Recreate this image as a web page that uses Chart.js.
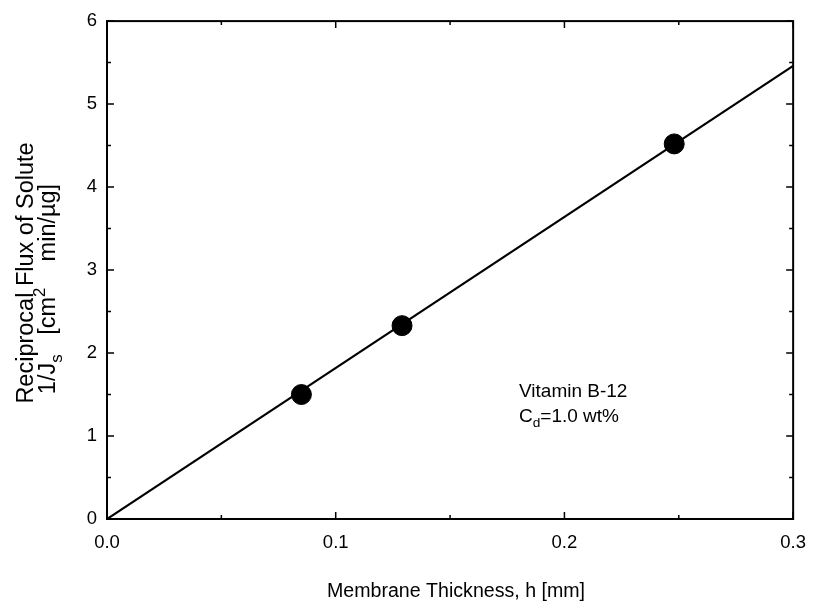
<!DOCTYPE html>
<html>
<head>
<meta charset="utf-8">
<script src="https://cdn.jsdelivr.net/npm/chart.js@4/dist/chart.umd.min.js"></script>
<style>
  html, body { margin: 0; padding: 0; background: #fff; }
  #wrap { width: 819px; height: 603px; }
</style>
</head>
<body>
<div id="wrap"><canvas id="c" width="819" height="603"></canvas></div>
<script>
// Measured solute flux vs. membrane thickness
const thickness = [0.085, 0.129, 0.248];          // h [mm]
const reciprocalFlux = [1.50, 2.33, 4.52];        // 1/Js [cm^2 min/ug]
// Straight-line fit through the origin
const fitThickness = [0.0, 0.3];
const fitFlux = [0.0, 5.46];
// Axis ranges
const xRange = [0, 0.3];
const yRange = [0, 6];
const xStep = 0.1, yStep = 1;

const FONT = '"Liberation Sans", Arial, Helvetica, sans-serif';
const INK = '#000';

// Rich text helpers (plain runs plus sub/superscripts) along a baseline
function richWidth(ctx, parts, size) {
  let w = 0;
  for (const p of parts) {
    const s = p.sub || p.sup ? size * 0.72 : size;
    ctx.font = s + 'px ' + FONT;
    w += ctx.measureText(p.t).width;
  }
  return w;
}
function drawRich(ctx, parts, x, y, size) {
  for (const p of parts) {
    const s = p.sub || p.sup ? size * 0.72 : size;
    ctx.font = s + 'px ' + FONT;
    const dy = p.sub ? size * 0.28 : p.sup ? -size * 0.42 : 0;
    ctx.fillText(p.t, x, y + dy);
    x += ctx.measureText(p.t).width;
  }
}

const frameAndLabels = {
  id: 'frameAndLabels',
  afterDraw(chart) {
    const ctx = chart.ctx;
    const a = chart.chartArea;
    const xs = chart.scales.x, ys = chart.scales.y;
    ctx.save();
    ctx.strokeStyle = INK;
    ctx.lineWidth = 2;
    ctx.strokeRect(a.left, a.top, a.right - a.left, a.bottom - a.top);

    // inward ticks on all four sides (major + half-step minor)
    ctx.lineWidth = 1.5;
    ctx.beginPath();
    for (let v = yRange[0]; v <= yRange[1] + 1e-9; v += yStep / 2) {
      const py = ys.getPixelForValue(v);
      const major = Math.abs(v - Math.round(v)) < 1e-6;
      const len = major ? 7 : 4;
      ctx.moveTo(a.left, py); ctx.lineTo(a.left + len, py);
      ctx.moveTo(a.right, py); ctx.lineTo(a.right - len, py);
    }
    for (let v = xRange[0]; v <= xRange[1] + 1e-9; v += xStep / 2) {
      const px = xs.getPixelForValue(v);
      const major = Math.abs(v / xStep - Math.round(v / xStep)) < 1e-6;
      const len = major ? 7 : 4;
      ctx.moveTo(px, a.bottom); ctx.lineTo(px, a.bottom - len);
      ctx.moveTo(px, a.top); ctx.lineTo(px, a.top + len);
    }
    ctx.stroke();

    ctx.fillStyle = INK;
    ctx.textBaseline = 'alphabetic';
    ctx.textAlign = 'left';

    // x-axis title
    const xt = [{ t: 'Membrane Thickness, h [mm]' }];
    const xw = richWidth(ctx, xt, 19.6);
    drawRich(ctx, xt, 456 - xw / 2, 597, 19.6);

    // y-axis title, two rotated lines
    const l1 = [{ t: 'Reciprocal Flux of Solute' }];
    const l2 = [{ t: '1/J' }, { t: 's', sub: true }, { t: '   [cm' }, { t: '2', sup: true }, { t: '    min/\u00b5g]' }];
    ctx.save();
    ctx.translate(33, 273);
    ctx.rotate(-Math.PI / 2);
    drawRich(ctx, l1, -richWidth(ctx, l1, 23.5) / 2, 0, 23.5);
    ctx.restore();
    ctx.save();
    ctx.translate(55, 289);
    ctx.rotate(-Math.PI / 2);
    drawRich(ctx, l2, -richWidth(ctx, l2, 23.5) / 2, 0, 23.5);
    ctx.restore();

    // annotation
    drawRich(ctx, [{ t: 'Vitamin B-12' }], 519, 397, 19);
    drawRich(ctx, [{ t: 'C' }, { t: 'd', sub: true }, { t: '=1.0 wt%' }], 519, 422, 19);
    ctx.restore();
  }
};

new Chart(document.getElementById('c'), {
  data: {
    datasets: [
      {
        type: 'line',
        data: fitThickness.map((x, i) => ({ x, y: fitFlux[i] })),
        borderColor: INK,
        borderWidth: 2.2,
        pointRadius: 0,
        fill: false,
        order: 2
      },
      {
        type: 'scatter',
        data: thickness.map((x, i) => ({ x, y: reciprocalFlux[i] })),
        backgroundColor: INK,
        borderColor: INK,
        pointRadius: 10,
        order: 1
      }
    ]
  },
  options: {
    responsive: false,
    animation: false,
    devicePixelRatio: 1,
    layout: { padding: { top: 17, right: 16, left: 0, bottom: 0 } },
    plugins: { legend: { display: false }, tooltip: { enabled: false } },
    scales: {
      x: {
        type: 'linear',
        min: xRange[0], max: xRange[1],
        grid: { display: false, drawTicks: false },
        border: { display: false },
        ticks: {
          stepSize: xStep,
          padding: 13,
          color: INK,
          font: { family: FONT, size: 18.5 },
          callback: v => v.toFixed(1)
        },
        afterFit: s => { s.height = 84; }
      },
      y: {
        type: 'linear',
        min: yRange[0], max: yRange[1],
        grid: { display: false, drawTicks: false },
        border: { display: false },
        ticks: {
          stepSize: yStep,
          padding: 10,
          color: INK,
          font: { family: FONT, size: 18.5 }
        },
        afterFit: s => { s.width = 107; }
      }
    }
  },
  plugins: [frameAndLabels]
});
</script>
</body>
</html>
